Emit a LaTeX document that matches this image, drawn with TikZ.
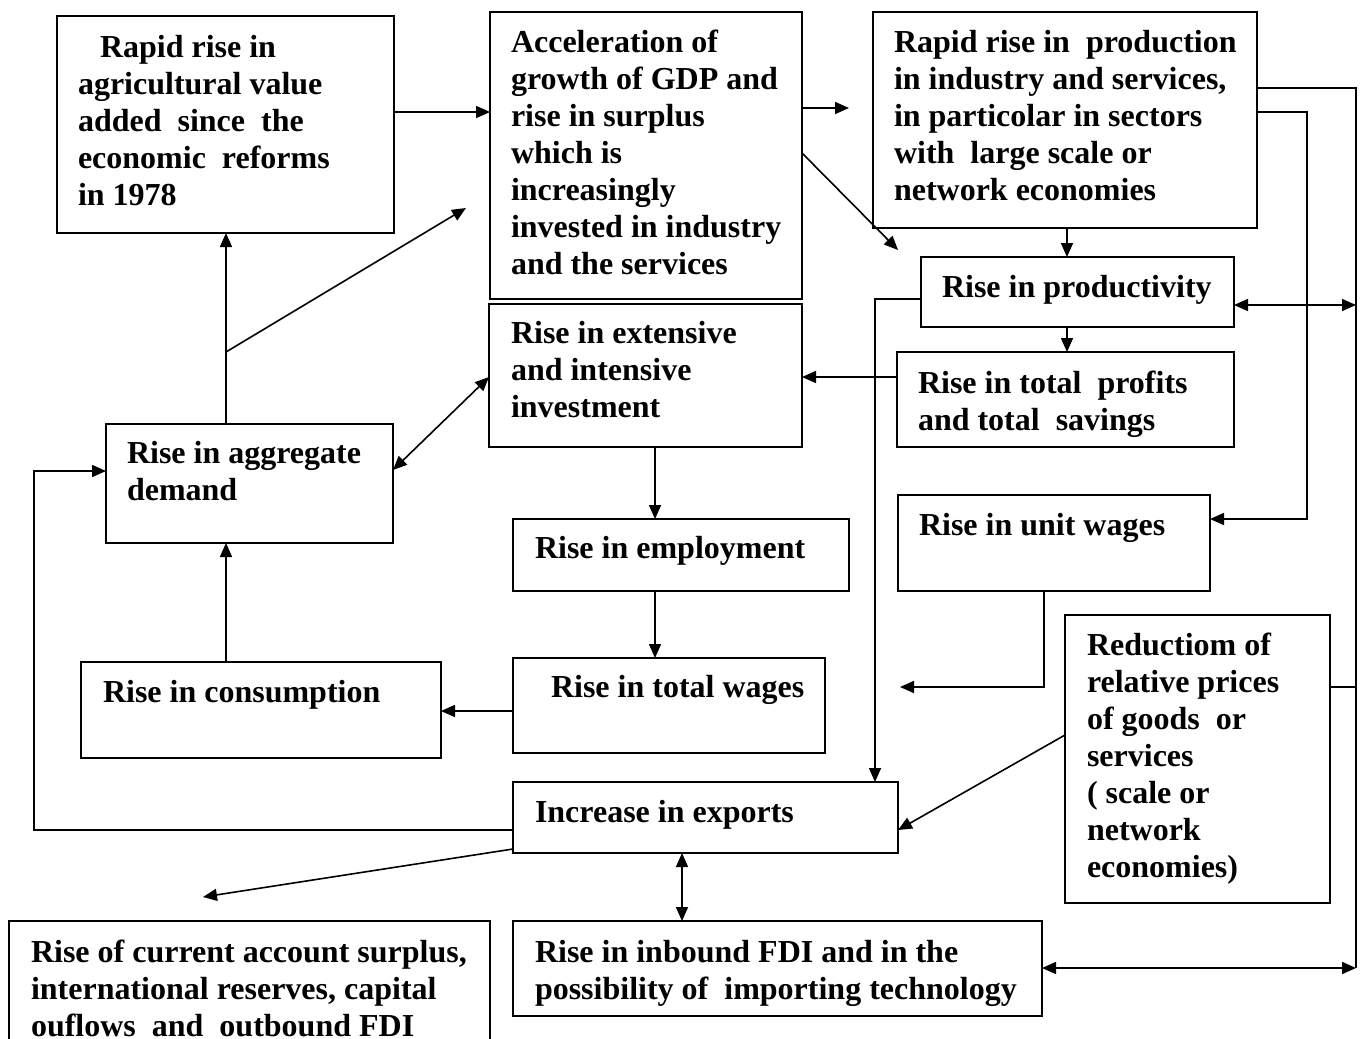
\documentclass[tikz,border=0pt]{standalone}
\usepackage{fontspec}
\setmainfont{Liberation Serif}
\usetikzlibrary{arrows.meta}
\begin{document}
\begin{tikzpicture}[x=1pt,y=-1pt,
  box/.style={draw, line width=2pt, inner sep=0pt, outer sep=0pt, anchor=north west},
  txt/.style={inner sep=0pt, outer sep=0pt, anchor=north west, align=left, font=\bfseries\fontsize{32}{37}\selectfont},
  con/.style={line width=1.6pt},
  arr/.style={con, -{Triangle[length=14pt,width=12pt]}},
  dbl/.style={con, {Triangle[length=14pt,width=12pt]}-{Triangle[length=14pt,width=12pt]}}]
\useasboundingbox (0,0) rectangle (1361,1039);
\clip (0,0) rectangle (1361,1039);
\fill[white] (0,0) rectangle (1361,1039);

% boxes
\node[box, minimum width=337pt, minimum height=217pt] (agri) at (57,16) {};
\node[box, minimum width=312pt, minimum height=287pt] (gdp) at (490,12) {};
\node[box, minimum width=384pt, minimum height=216pt] (prod) at (873,12) {};
\node[box, minimum width=313pt, minimum height=70pt] (prodv) at (921,257) {};
\node[box, minimum width=337pt, minimum height=95pt] (profit) at (897,352) {};
\node[box, minimum width=313pt, minimum height=143pt] (invest) at (489,304) {};
\node[box, minimum width=287pt, minimum height=119pt] (agg) at (106,424) {};
\node[box, minimum width=336pt, minimum height=72pt] (empl) at (513,519) {};
\node[box, minimum width=312pt, minimum height=96pt] (unit) at (898,495) {};
\node[box, minimum width=360pt, minimum height=96pt] (cons) at (81,662) {};
\node[box, minimum width=312pt, minimum height=95pt] (twage) at (513,658) {};
\node[box, minimum width=265pt, minimum height=288pt] (redu) at (1065,615) {};
\node[box, minimum width=385pt, minimum height=71pt] (expo) at (513,782) {};
\node[box, minimum width=481pt, minimum height=160pt] (curr) at (9,921) {};
\node[box, minimum width=529pt, minimum height=95pt] (fdi) at (513,921) {};

% texts
\node[txt] (agriT) at (78,31.1) {\strut\hspace*{22pt}Rapid rise in\\agricultural value\\added\ \ since\ \ the\\economic\ \ reforms\\in 1978};
\node[txt] (gdpT) at (511,26.1) {\strut Acceleration of\\growth of GDP and\\rise in surplus\\which is\\increasingly\\invested in industry\\and the services};
\node[txt] (prodT) at (894,26.1) {\strut Rapid rise in\ \ production\\in industry and services,\\in particolar in sectors\\with\ \ large scale or\\network economies};
\node[txt] (prodvT) at (942,271.1) {\strut Rise in productivity};
\node[txt] (profitT) at (918,367.1) {\strut Rise in total\ \ profits\\and total\ \ savings};
\node[txt] (investT) at (511,317.1) {\strut Rise in extensive\\and intensive\\investment};
\node[txt] (aggT) at (127,437.1) {\strut Rise in aggregate\\demand};
\node[txt] (emplT) at (535,532.1) {\strut Rise in employment};
\node[txt] (unitT) at (919,509.1) {\strut Rise in unit wages};
\node[txt] (consT) at (103,676.1) {\strut Rise in consumption};
\node[txt] (twageT) at (551,671.1) {\strut Rise in total wages};
\node[txt] (reduT) at (1087,629.1) {\strut Reductiom of\\relative prices\\of goods\ \ or\\services\\( scale or\\network\\economies)};
\node[txt] (expoT) at (535,796.1) {\strut Increase in exports};
\node[txt] (currT) at (31,936.1) {\strut Rise of current account surplus,\\international reserves, capital\\ouflows\ \ and\ \ outbound FDI};
\node[txt] (fdiT) at (535,936.1) {\strut Rise in inbound FDI and in the\\possibility of\ \ importing technology};

% free-end coordinates
\coordinate (gA) at (849,108);
\coordinate (gB) at (898,250);
\coordinate (gC) at (466,208);
\coordinate (aD) at (226,352);
\coordinate (rP) at (1356,305);
\coordinate (rR) at (1356,687);
\coordinate (rB) at (1356,968);
\coordinate (rU) at (1307,519);
\coordinate (uE) at (900,687);
\coordinate (lC) at (34,471);
\coordinate (cE) at (203,897);

% connectors
\draw[arr] (agri.east |- 0,112) -- (gdp.west |- 0,112);
\draw[arr] (gdp.east |- gA) -- (gA);
\draw[arr] (gdp.east |- 0,153) -- (gB);
\draw[arr] (prod.south -| 1067,0) -- (prodv.north -| 1067,0);
\draw[arr] (prodv.south -| 1067,0) -- (profit.north -| 1067,0);
\draw[arr] (prodv.west |- 0,299) -| (expo.north -| 875,0);
\draw[con] (prod.east |- 0,88) -| (rB);
\draw[dbl] (prodv.east |- rP) -- (rP);
\draw[dbl] (fdi.east |- rB) -- (rB);
\draw[con] (redu.east |- rR) -- (rR);
\draw[arr] (prod.east |- 0,112) -| (rU) -- (unit.east |- rU);
\draw[arr] (profit.west |- 0,377) -- (invest.east |- 0,377);
\draw[arr] (invest.south -| 655,0) -- (empl.north -| 655,0);
\draw[arr] (empl.south -| 655,0) -- (twage.north -| 655,0);
\draw[arr] (twage.west |- 0,711) -- (cons.east |- 0,711);
\draw[arr] (cons.north -| 226,0) -- (agg.south -| 226,0);
\draw[arr] (agg.north -| aD) -- (agri.south -| aD);
\draw[arr] (aD) -- (gC);
\draw[dbl] (agg.east |- 0,470) -- (invest.west |- 0,377);
\draw[arr] (unit.south -| 1044,0) |- (uE);
\draw[arr] (redu.west |- 0,735) -- (expo.east |- 0,830);
\draw[arr] (expo.west |- 0,830) -| (lC) -- (agg.west |- lC);
\draw[arr] (expo.west |- 0,849) -- (cE);
\draw[dbl] (expo.south -| 682,0) -- (fdi.north -| 682,0);
\end{tikzpicture}
\end{document}
